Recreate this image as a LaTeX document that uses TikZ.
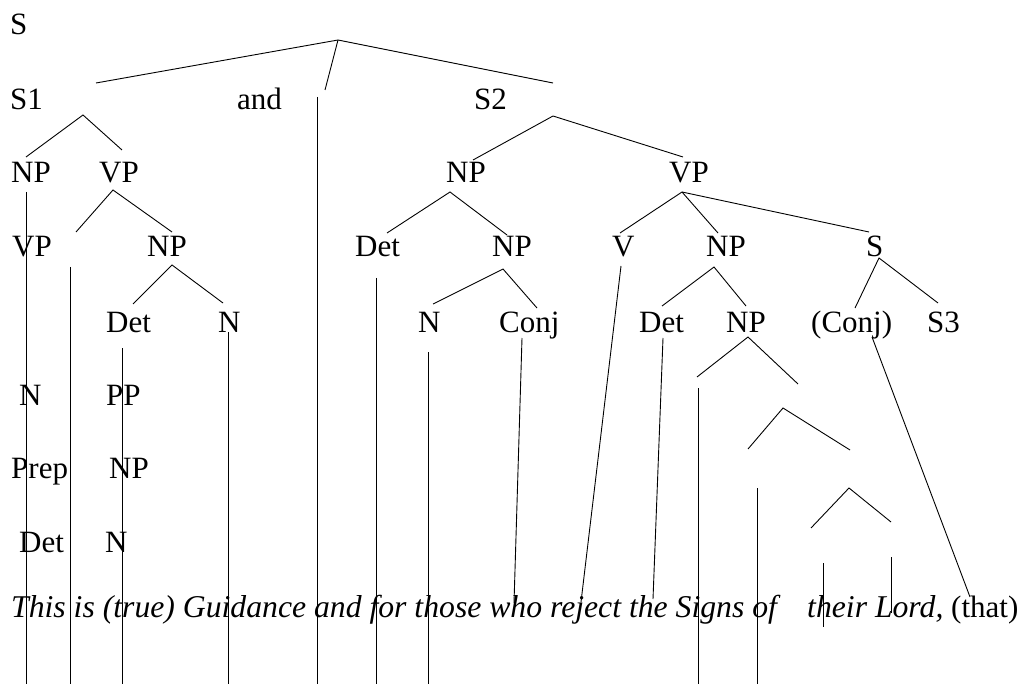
\documentclass[tikz,border=0pt]{standalone}
\usepackage{fontspec}
\setmainfont{Liberation Serif}
\begin{document}
\begin{tikzpicture}[x=1pt,y=-1pt,
  lbl/.style={anchor=base west, inner sep=0pt, font=\fontsize{31}{36}\selectfont},
  sent/.style={anchor=base west, inner sep=0pt, font=\fontsize{31.7}{36}\selectfont\itshape},
  ln/.style={line width=0.9pt, black}]
\useasboundingbox (0,0) rectangle (1027,684);
% ---- labels
\node[lbl] (s) at (10,35) {S};
\node[lbl] (s1) at (10,110) {S1};
\node[lbl] (and) at (237,110) {and};
\node[lbl] (s2) at (474,110) {S2};
\node[lbl] (np1) at (11,183) {NP};
\node[lbl] (vp1) at (99,183) {VP};
\node[lbl] (np2) at (446,183) {NP};
\node[lbl] (vp2) at (669,183) {VP};
\node[lbl] (vp3) at (12,257) {VP};
\node[lbl] (np3) at (147,257) {NP};
\node[lbl] (det1) at (355,257) {Det};
\node[lbl] (np4) at (492,257) {NP};
\node[lbl] (v1) at (612,257) {V};
\node[lbl] (np5) at (706,257) {NP};
\node[lbl] (s3) at (866,257) {S};
\node[lbl] (det2) at (106,332) {Det};
\node[lbl] (n1) at (218,332) {N};
\node[lbl] (n2) at (418,332) {N};
\node[lbl] (conj1) at (499,332) {Conj};
\node[lbl] (det3) at (639,332) {Det};
\node[lbl] (np6) at (726,332) {NP};
\node[lbl] (conj2) at (811,332) {(Conj)};
\node[lbl] (s4) at (927,332) {S3};
\node[lbl] (n3) at (19,405) {N};
\node[lbl] (pp) at (106,405) {PP};
\node[lbl] (prep) at (11,478) {Prep};
\node[lbl] (np7) at (109,478) {NP};
\node[lbl] (det4) at (19,552) {Det};
\node[lbl] (n4) at (105,552) {N};
\node[sent] (sent1) at (11,617) {This is (true) Guidance and for those who reject the Signs of};
\node[sent] (sent2) at (807,617) {their Lord,};
\node[lbl] (that) at (951,617) {(that)};
% ---- connector end points
\coordinate (a0) at (338,40);
\coordinate (a0l) at (96,83);
\coordinate (a0m) at (325,90);
\coordinate (a0r) at (553,83);
\coordinate (andt) at (317,97);  \coordinate (andb) at (317,684);
\coordinate (a1) at (83,115);  \coordinate (a1l) at (26,157); \coordinate (a1r) at (122,150);
\coordinate (a2) at (553,116); \coordinate (a2l) at (473,160); \coordinate (a2r) at (683,157);
\coordinate (np1t) at (26,192); \coordinate (np1b) at (26,684);
\coordinate (a3) at (113,190); \coordinate (a3l) at (76,232); \coordinate (a3r) at (172,232);
\coordinate (a4) at (450,192); \coordinate (a4l) at (387,233); \coordinate (a4r) at (507,235);
\coordinate (a5) at (682,192); \coordinate (a5l) at (620,233); \coordinate (a5m) at (718,233); \coordinate (a5r) at (869,232);
\coordinate (vp3t) at (70,267); \coordinate (vp3b) at (70,684);
\coordinate (a6) at (172,265); \coordinate (a6l) at (133,304); \coordinate (a6r) at (223,303);
\coordinate (det1t) at (376,278); \coordinate (det1b) at (376,684);
\coordinate (a7) at (503,269); \coordinate (a7l) at (433,304); \coordinate (a7r) at (537,308);
\coordinate (v1t) at (621,266); \coordinate (v1b) at (581,602);
\coordinate (a8) at (714,267); \coordinate (a8l) at (662,306); \coordinate (a8r) at (746,306);
\coordinate (a9) at (879,258); \coordinate (a9l) at (855,308); \coordinate (a9r) at (938,303);
\coordinate (det2t) at (122,348); \coordinate (det2b) at (122,684);
\coordinate (n1t) at (228,332); \coordinate (n1b) at (228,684);
\coordinate (n2t) at (428,352); \coordinate (n2b) at (428,684);
\coordinate (conj1t) at (522,338); \coordinate (conj1b) at (514,603);
\coordinate (det3t) at (663,338); \coordinate (det3b) at (653,599);
\coordinate (a10) at (748,337); \coordinate (a10l) at (697,377); \coordinate (a10r) at (798,384);
\coordinate (x1t) at (698,388); \coordinate (x1b) at (698,684);
\coordinate (a11) at (783,408); \coordinate (a11l) at (748,449); \coordinate (a11r) at (850,450);
\coordinate (x2t) at (757,488); \coordinate (x2b) at (757,684);
\coordinate (a12) at (849,488); \coordinate (a12l) at (811,528); \coordinate (a12r) at (891,522);
\coordinate (x3t) at (823,563); \coordinate (x3b) at (823,627);
\coordinate (x4t) at (891,557); \coordinate (x4b) at (891,613);
\coordinate (conj2t) at (872,337); \coordinate (conj2b) at (970,597);
% ---- connectors
\draw[ln] (a0l) -- (a0) -- (a0r);
\draw[ln] (a0) -- (a0m);
\draw[ln] (andt) -- (andb);
\draw[ln] (a1l) -- (a1) -- (a1r);
\draw[ln] (a2l) -- (a2) -- (a2r);
\draw[ln] (np1t) -- (np1b);
\draw[ln] (a3l) -- (a3) -- (a3r);
\draw[ln] (a4l) -- (a4) -- (a4r);
\draw[ln] (a5l) -- (a5) -- (a5r);
\draw[ln] (a5) -- (a5m);
\draw[ln] (vp3t) -- (vp3b);
\draw[ln] (a6l) -- (a6) -- (a6r);
\draw[ln] (det1t) -- (det1b);
\draw[ln] (a7l) -- (a7) -- (a7r);
\draw[ln] (v1t) -- (v1b);
\draw[ln] (a8l) -- (a8) -- (a8r);
\draw[ln] (a9l) -- (a9) -- (a9r);
\draw[ln] (det2t) -- (det2b);
\draw[ln] (n1t) -- (n1b);
\draw[ln] (n2t) -- (n2b);
\draw[ln] (conj1t) -- (conj1b);
\draw[ln] (det3t) -- (det3b);
\draw[ln] (a10l) -- (a10) -- (a10r);
\draw[ln] (x1t) -- (x1b);
\draw[ln] (a11l) -- (a11) -- (a11r);
\draw[ln] (x2t) -- (x2b);
\draw[ln] (a12l) -- (a12) -- (a12r);
\draw[ln] (x3t) -- (x3b);
\draw[ln] (x4t) -- (x4b);
\draw[ln] (conj2t) -- (conj2b);
\end{tikzpicture}
\end{document}
